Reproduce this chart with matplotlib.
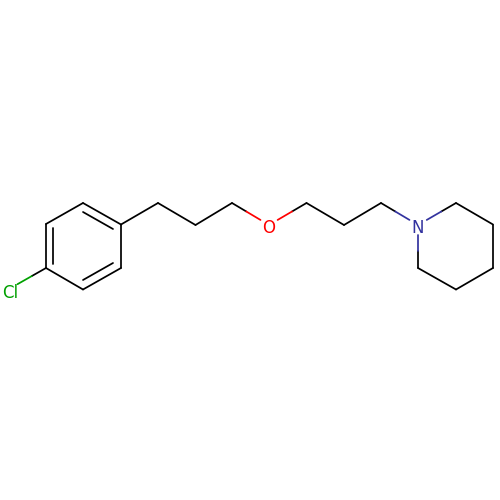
import matplotlib
matplotlib.use('Agg')
import matplotlib.pyplot as plt

# atom positions
atom_x = [46, 83, 121, 121, 83, 46, 9, 158, 195.5, 232, 269, 306.5, 344, 381, 418, 456, 493, 493, 456, 418]
atom_y = [224, 203, 224.5, 268, 289.5, 268, 289, 203, 225, 203, 225, 203, 225, 203, 225, 203, 224.5, 268, 289.5, 268]
atom_labels = {6: 'Cl', 10: 'O', 14: 'N'}

bonds = [(0, 1), (1, 2), (2, 3), (3, 4), (4, 5), (5, 0), (5, 6), (2, 7), (7, 8), (8, 9),
         (9, 10), (10, 11), (11, 12), (12, 13), (13, 14), (14, 15), (15, 16), (16, 17),
         (17, 18), (18, 19), (19, 14)]

# aromatic inner lines, as (start x, start y, end x, end y)
inner_lines = [(53, 228, 53, 264), (83, 212, 113, 229), (83, 280, 113, 263)]

label_colors = {'Cl': '#00A000', 'O': '#FF0000', 'N': '#33339F'}
BLACK = '#000000'
LW = 1.25
TRIM = 0.77  # how far a bond runs towards a label


def draw_segment(ax, x0, y0, x1, y1, color):
    ax.plot([x0, x1], [y0, y1], color=color, lw=LW, solid_capstyle='round')


fig = plt.figure(figsize=(5, 5), dpi=100)
ax = fig.add_axes([0, 0, 1, 1])
ax.set_xlim(0, 500)
ax.set_ylim(500, 0)
ax.axis('off')

for a, b in bonds:
    # labelled atom always goes at the far end
    if a in atom_labels:
        a, b = b, a
    x0, y0 = atom_x[a], atom_y[a]
    x1, y1 = atom_x[b], atom_y[b]
    if b in atom_labels:
        dx, dy = x1 - x0, y1 - y0
        xm, ym = x0 + dx * TRIM / 2, y0 + dy * TRIM / 2
        xe, ye = x0 + dx * TRIM, y0 + dy * TRIM
        draw_segment(ax, x0, y0, xm, ym, BLACK)
        draw_segment(ax, xm, ym, xe, ye, label_colors[atom_labels[b]])
    else:
        draw_segment(ax, x0, y0, x1, y1, BLACK)

for x0, y0, x1, y1 in inner_lines:
    draw_segment(ax, x0, y0, x1, y1, BLACK)

for idx, label in atom_labels.items():
    ax.text(atom_x[idx] + (1 if label == 'Cl' else 0), atom_y[idx] + (1.5 if label == 'Cl' else 1), label,
            color=label_colors[label], fontsize=12, ha='center', va='center_baseline')

fig.savefig('out.png', dpi=100, facecolor='white')
